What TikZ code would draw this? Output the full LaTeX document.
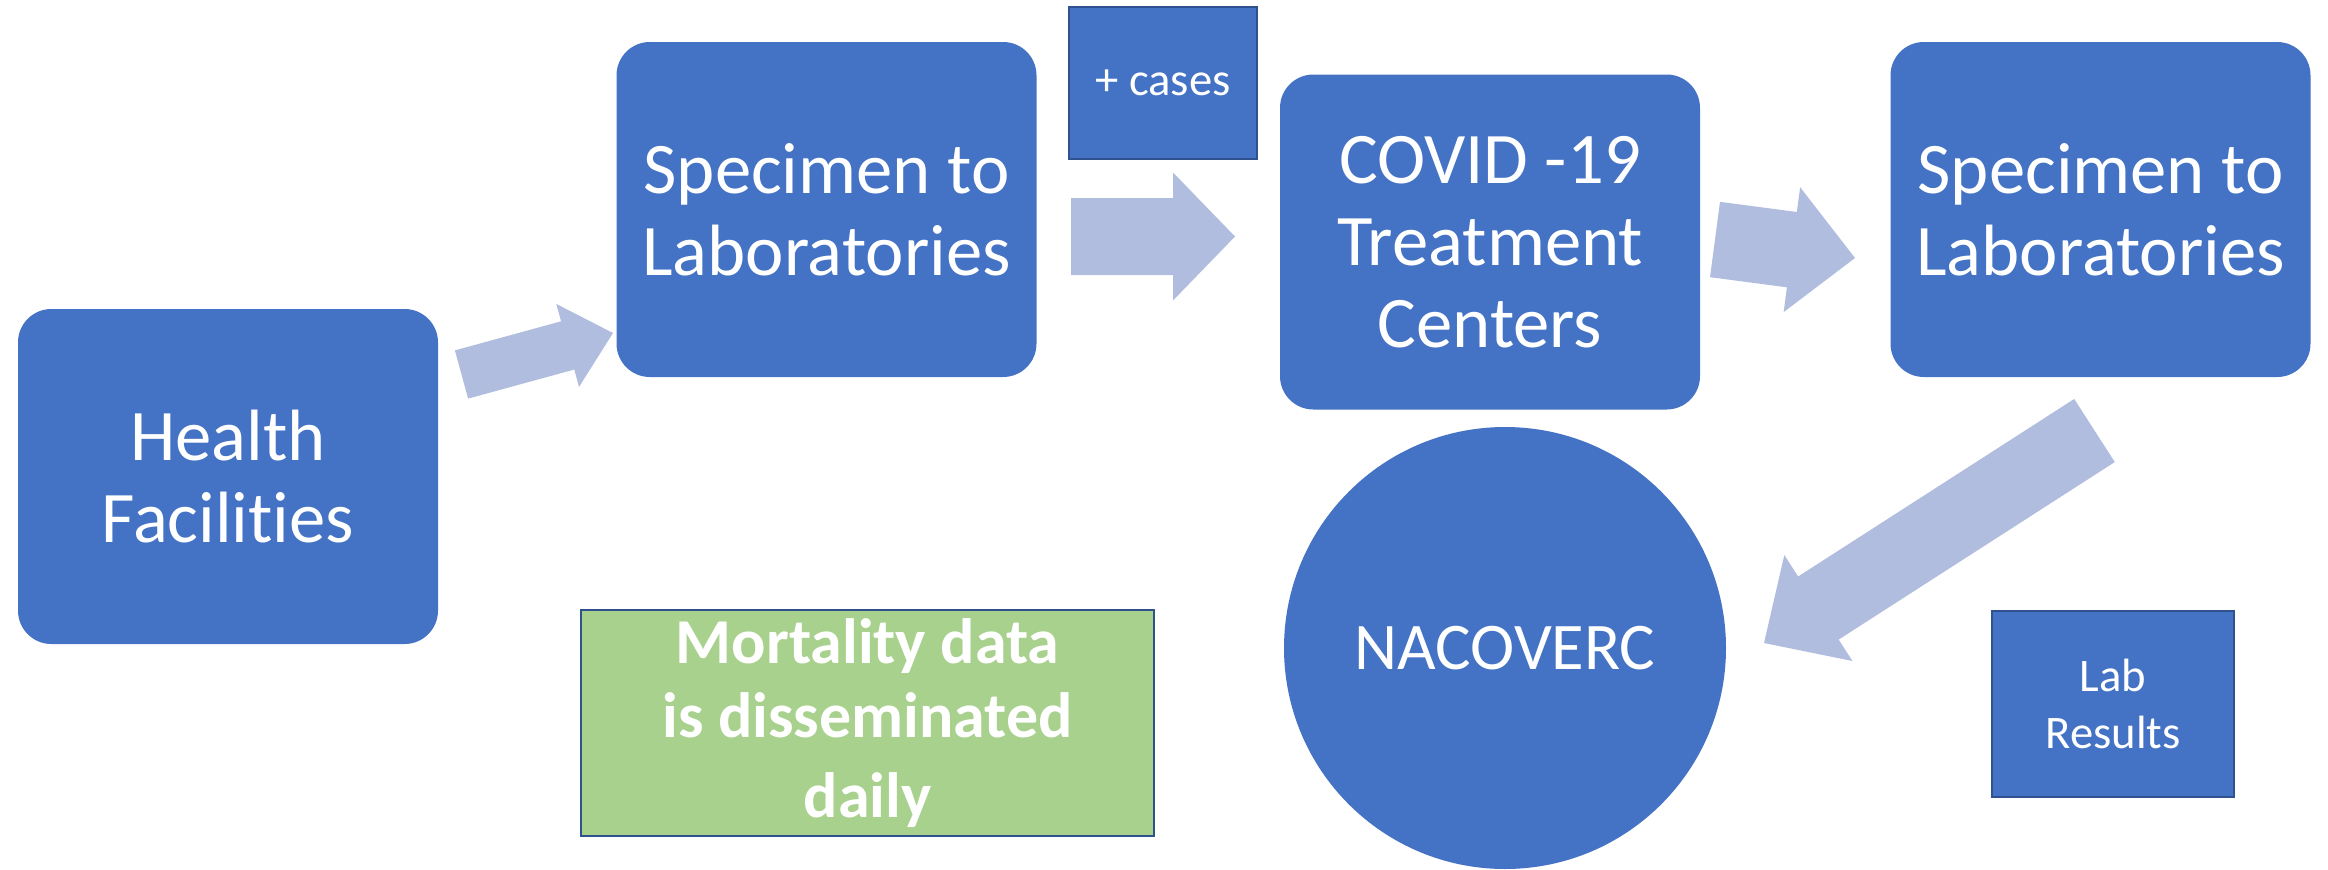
\documentclass[tikz,border=0pt]{standalone}
\usepackage{fontspec}
\setmainfont{Carlito}[Ligatures=NoCommon]
\usetikzlibrary{calc, positioning}
\definecolor{boxblue}{HTML}{4472C4}
\definecolor{edgeblue}{HTML}{2F528F}
\definecolor{flowblue}{RGB}{176,189,222}
\definecolor{notegreen}{HTML}{A9D18E}
\tikzset{
  every node/.style={text=white, align=center, inner sep=0pt},
  stage/.style={fill=boxblue, rounded corners=10pt, minimum width=126pt,
    minimum height=100.5pt, font=\fontsize{21.8}{24.6}\selectfont},
  tag/.style={fill=boxblue, draw=edgeblue, line width=0.8pt,
    font=\fontsize{14}{17}\selectfont},
  hub/.style={circle, fill=boxblue, minimum size=132.6pt,
    font=\fontsize{20}{24}\selectfont},
  note/.style={fill=notegreen, draw=edgeblue, line width=0.8pt,
    font=\bfseries\fontsize{19.2}{24}\selectfont},
  flow/.style={fill=flowblue},
}
% block arrow: tail, tip, half shaft, half head, head length
\newcommand{\fatarrow}[5]{%
  \coordinate (neck) at ($(#2)!#5!(#1)$);
  \fill[flow] ($(#1)!#3!90:(#2)$) -- ($(neck)!#3!90:(#2)$)
    -- ($(neck)!#4!90:(#2)$) -- (#2) -- ($(neck)!#4!-90:(#2)$)
    -- ($(neck)!#3!-90:(#2)$) -- ($(#1)!#3!-90:(#2)$) -- cycle;
}

\begin{document}
\begin{tikzpicture}[x=0.3pt, y=-0.3pt]
        \useasboundingbox (0,0) rectangle (2328,869);

        % stages
        \node[stage] (hf) at (228,476.5) {Health\\Facilities};
        \node[stage] (spec1) at (826.5,209.5) {Specimen to\\Laboratories};
        \node[stage] (ctc) at (1490,242) {COVID -19\\Treatment\\Centers};
        \node[stage] (spec2) at (2100.5,209.5) {Specimen to\\Laboratories};
        \node[hub] (nac) at (1505,648) {NACOVERC};

        % labels
        \node[tag, minimum width=56.4pt, minimum height=45.6pt] (cases) at (1163,83) {+ cases};
        \node[tag, minimum width=72.6pt, minimum height=55.8pt] (lab) at (2113,704) {Lab\\Results};
        \node[note, minimum width=171.9pt, minimum height=67.8pt] (mort) at (867.5,723)
              {\raisebox{-2pt}{Mortality data}\\is disseminated\\daily};

        % arrow ends
        \coordinate (a1s) at (461.5,374.5);
        \coordinate (a1e) at (613,333);
        \coordinate (a2s) at (1071,236.5);
        \coordinate (a2e) at (1235,236.5);
        \coordinate (a3s) at (1715,239.5);
        \coordinate (a3e) at (1855,258);
        \coordinate (a4s) at (2094.5,430.5);
        \coordinate (a4e) at (1764,643);

        % flows
        \fatarrow{a1s}{a1e}{7.5pt}{12.9pt}{14.1pt}
        \fatarrow{a2s}{a2e}{11.55pt}{19.2pt}{18.6pt}
        \fatarrow{a3s}{a3e}{11.4pt}{18.9pt}{19.1pt}
        \fatarrow{a4s}{a4e}{11.25pt}{18.9pt}{19.4pt}

      \end{tikzpicture}
\end{document}
